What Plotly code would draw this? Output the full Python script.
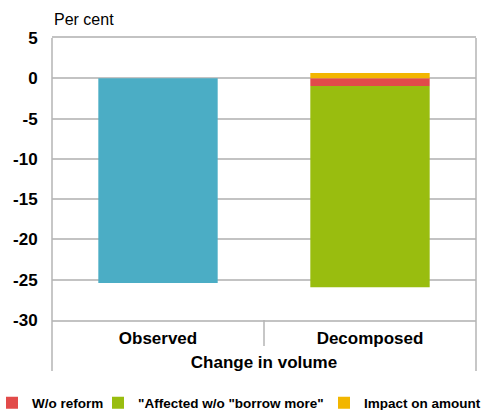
import plotly.graph_objects as go

# ---- data ----
categories = ["Observed", "Decomposed"]
observed_value = [-25.4]
wo_reform = [-0.95]
affected = [-25.0]
impact_amount = [0.65]
y_ticks = [5, 0, -5, -10, -15, -20, -25, -30]

FONT = "Arial, Liberation Sans, Helvetica, sans-serif"
GRID = "#c3c3c3"

fig = go.Figure()
fig.add_trace(go.Bar(x=[categories[0]], y=observed_value, marker_color="#4BADC5",
                     marker_line_width=0, showlegend=False, name="Observed"))
fig.add_trace(go.Bar(x=[categories[1]], y=wo_reform, marker_color="#E24B4A",
                     marker_line_width=0, name="W/o reform", legend="legend"))
fig.add_trace(go.Bar(x=[categories[1]], y=affected, marker_color="#99BD0F",
                     marker_line_width=0, name='"Affected w/o "borrow more"', legend="legend2"))
fig.add_trace(go.Bar(x=[categories[1]], y=impact_amount, marker_color="#F2B600",
                     marker_line_width=0, name="Impact on amount", legend="legend3"))

W, H = 485, 410
ml, mr, mt, mb = 52, 9, 38, 90
pw, ph = W - ml - mr, H - mt - mb

def px_x(p):
    return (p - ml) / pw

def px_y(p):
    return (H - mb - p) / ph

legfont = dict(family=FONT, size=13.5, color="black", weight="bold")
leg_common = dict(orientation="h", xanchor="left", yanchor="middle", y=px_y(403),
                  font=legfont, bgcolor="rgba(0,0,0,0)", borderwidth=0)

fig.update_layout(
    width=W, height=H,
    margin=dict(l=ml, r=mr, t=mt, b=mb, pad=0, autoexpand=False),
    paper_bgcolor="white", plot_bgcolor="white",
    barmode="relative", bargap=0.437,
    font=dict(family=FONT, color="black"),
    legend=dict(x=px_x(-8), **leg_common),
    legend2=dict(x=px_x(98), **leg_common),
    legend3=dict(x=px_x(324), **leg_common),
    xaxis=dict(
        type="category", categoryorder="array", categoryarray=categories,
        showgrid=False, zeroline=False,
        showline=True, mirror=True, linecolor=GRID, linewidth=1.5,
        ticks="outside", ticklen=2, tickcolor="rgba(0,0,0,0)",
        tickfont=dict(family=FONT, size=17, color="black", weight="bold"),
        title=dict(text="Change in volume", standoff=9,
                   font=dict(family=FONT, size=17, color="black", weight="bold")),
    ),
    yaxis=dict(
        range=[-30, 5], tickvals=y_ticks, ticktext=[str(v) for v in y_ticks],
        showgrid=True, gridcolor=GRID, gridwidth=1.5,
        zeroline=False, showline=False,
        ticks="outside", ticklen=10, tickcolor="rgba(0,0,0,0)",
        tickfont=dict(family=FONT, size=17, color="black", weight="bold"),
    ),
    annotations=[dict(text="Per cent", x=0, xref="paper", xanchor="left",
                      y=1, yref="paper", yanchor="bottom", yshift=8, showarrow=False,
                      font=dict(family=FONT, size=16, color="black"))],
    shapes=[
        dict(type="line", xref="paper", yref="paper", x0=0, x1=0, y0=1, y1=px_y(371),
             line=dict(color="#b4b4b4", width=1.5), layer="above"),
        dict(type="line", xref="paper", yref="paper", x0=1, x1=1, y0=1, y1=px_y(371),
             line=dict(color="#b4b4b4", width=1.5), layer="above"),
        dict(type="line", xref="paper", yref="paper", x0=0.5, x1=0.5, y0=0, y1=px_y(346),
             line=dict(color="#b4b4b4", width=1.5), layer="above"),
    ],
)

fig.write_html("out.html")
